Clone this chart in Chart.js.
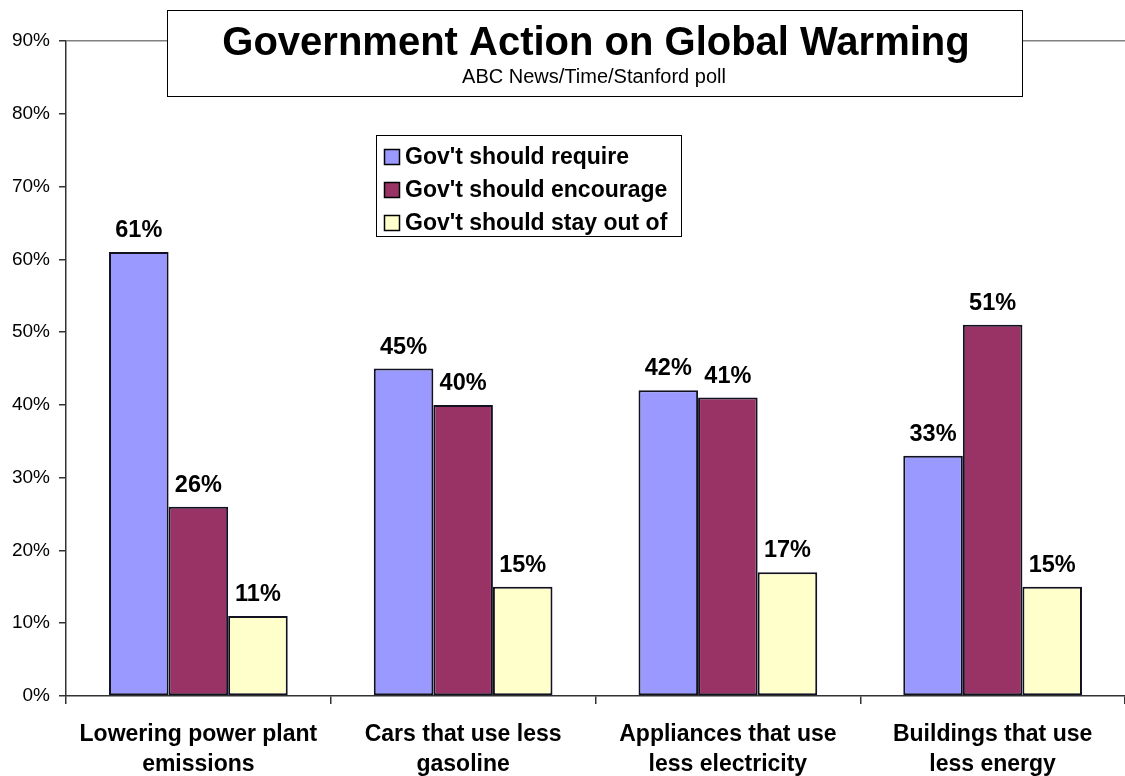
<!DOCTYPE html>
<html><head><meta charset="utf-8">
<script src="https://cdn.jsdelivr.net/npm/chart.js@4/dist/chart.umd.min.js"></script>
<style>html,body{margin:0;padding:0;background:#fff;}#wrap{width:1125px;height:776px;position:relative;}</style>
</head><body><div id="wrap"><canvas id="c" width="1125" height="776"></canvas></div>
<script>
const categories = [["Lowering power plant","emissions"],["Cars that use less","gasoline"],["Appliances that use","less electricity"],["Buildings that use","less energy"]];
const seriesNames = ["Gov't should require","Gov't should encourage","Gov't should stay out of"];
const requireVals = [61,45,42,33];
const encourageVals = [26,40,41,51];
const stayOutVals = [11,15,17,15];
const colors = ["#9999FF","#993366","#FFFFCC"];
const titleText = "Government Action on Global Warming";
const subtitleText = "ABC News/Time/Stanford poll";
const FONT = "'Liberation Sans', Arial, sans-serif";

const valueLabels = {
  id:'valueLabels',
  afterDatasetsDraw(chart){
    const ctx = chart.ctx;
    ctx.save();
    ctx.font = "bold 23.5px " + FONT;
    ctx.fillStyle = "#000";
    ctx.textAlign = "center";
    ctx.textBaseline = "alphabetic";
    chart.data.datasets.forEach((ds,i)=>{
      chart.getDatasetMeta(i).data.forEach((bar,j)=>{
        ctx.fillText(ds.data[j]+"%", bar.x, bar.y - 15);
      });
    });
    ctx.restore();
  }
};

const boxes = {
  id:'boxes',
  afterDraw(chart){
    const ctx = chart.ctx;
    ctx.save();
    // title box
    ctx.fillStyle = "#fff";
    ctx.fillRect(167.5,10.5,855,86);
    ctx.strokeStyle = "#000";
    ctx.lineWidth = 1;
    ctx.strokeRect(167.5,10.5,855,86);
    ctx.fillStyle = "#000";
    ctx.textAlign = "center";
    ctx.textBaseline = "alphabetic";
    ctx.font = "bold 40px " + FONT;
    ctx.fillText(titleText, 596, 55);
    ctx.font = "20px " + FONT;
    ctx.fillText(subtitleText, 594, 83);
    // legend box
    ctx.fillStyle = "#fff";
    ctx.fillRect(376.5,135.5,305,101);
    ctx.strokeRect(376.5,135.5,305,101);
    ctx.textAlign = "left";
    ctx.textBaseline = "middle";
    ctx.font = "bold 23px " + FONT;
    chart.data.datasets.forEach((ds,i)=>{
      const y = 157 + i*33;
      ctx.fillStyle = ds.backgroundColor;
      ctx.fillRect(384.5, y-7.5, 15, 15);
      ctx.strokeStyle = "#000";
      ctx.lineWidth = 1.5;
      ctx.strokeRect(384.5, y-7.5, 15, 15);
      ctx.fillStyle = "#000";
      ctx.fillText(ds.label, 405, y+1);
    });
    ctx.restore();
  }
};

new Chart(document.getElementById('c'), {
  type:'bar',
  data:{
    labels: categories,
    datasets:[
      {label:seriesNames[0], data:requireVals, backgroundColor:colors[0]},
      {label:seriesNames[1], data:encourageVals, backgroundColor:colors[1]},
      {label:seriesNames[2], data:stayOutVals, backgroundColor:colors[2]}
    ].map(d=>Object.assign(d,{borderColor:"#111122", borderWidth:2, borderSkipped:false, categoryPercentage:0.675, barPercentage:1}))
  },
  options:{
    responsive:false,
    animation:false,
    devicePixelRatio:1,
    layout:{padding:{top:41,left:0,right:0,bottom:0}},
    plugins:{legend:{display:false}, title:{display:false}, tooltip:{enabled:false}},
    scales:{
      y:{
        min:0, max:90,
        ticks:{stepSize:10, callback:v=>v+"%", color:"#000", font:{family:FONT, size:19}, padding:9},
        grid:{color:(c)=> c.tick && c.tick.value===90 ? "#808080" : "transparent", tickColor:"#333", tickLength:7, lineWidth:1.5},
        border:{color:"#333", width:1.5},
        afterFit(s){ s.width = 66; }
      },
      x:{
        ticks:{color:"#000", font:{family:FONT, size:23, weight:'bold', lineHeight:1.3}, padding:16, maxRotation:0, autoSkip:false},
        grid:{offset:true, drawOnChartArea:false, tickColor:"#333", tickLength:8, lineWidth:1.5},
        border:{color:"#333", width:1.5},
        afterFit(s){ s.height = 80; }
      }
    }
  },
  plugins:[valueLabels, boxes]
});
</script></body></html>
